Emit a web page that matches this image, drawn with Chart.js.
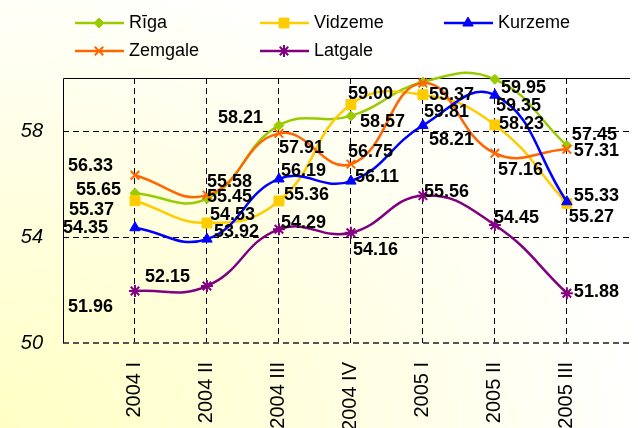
<!DOCTYPE html>
<html>
<head>
<meta charset="utf-8">
<script src="https://cdn.jsdelivr.net/npm/chart.js@4.4.1/dist/chart.umd.min.js"></script>
<style>
  html, body { margin: 0; padding: 0; }
  body {
    width: 638px; height: 428px; overflow: hidden;
    background: radial-gradient(ellipse 120% 130% at 0% 100%, #ffffc4 0%, #ffffe2 45%, #ffffff 85%);
  }
</style>
</head>
<body>
<canvas id="grafiks" width="638" height="428"></canvas>
<script>
// dati
const ceturksni = ["2004 I", "2004 II", "2004 III", "2004 IV", "2005 I", "2005 II", "2005 III"];
const riga    = [55.65, 55.45, 58.21, 58.57, 59.85, 59.95, 57.45];
const vidzeme = [55.37, 54.53, 55.36, 59.00, 59.37, 58.23, 55.27];
const kurzeme = [54.35, 53.92, 56.19, 56.11, 58.21, 59.35, 55.33];
const zemgale = [56.33, 55.58, 57.91, 56.75, 59.81, 57.16, 57.31];
const latgale = [51.96, 52.15, 54.29, 54.16, 55.56, 54.45, 51.88];
const yTicks = [50, 54, 58];

// etiķešu nobīdes (pikseļos no punkta), null = bez etiķetes
const nobides = {
  "Rīga":    [[-59, -3], [0, -2], [-61, -7], [9, 6], null, [6, 9], [5, -11]],
  "Vidzeme": [[-66, 9], [3, -8], [5, -6], [-3, -10], [6, 0], [4, -1], [2, 14]],
  "Kurzeme": [[-72, 0], [7, -7], [2, -8], [4, -4], [6, 15], [1, 11], [7, -6]],
  "Zemgale": [[-67, -9], [0, -13], [0, 15], [-3, -12], [1, 29], [3, 17], [7, 2]],
  "Latgale": [[-67, 16], [-62, -9], [2, -6], [2, 17], [1, -4], [-1, -7], [7, -1]]
};

const punkti = vals => vals.map((v, i) => ({ x: i + 1, y: v }));

function serija(nos, vals, krasa, stils, radius, bw, kartiba) {
  return {
    label: nos,
    data: punkti(vals),
    borderColor: krasa,
    backgroundColor: krasa,
    borderWidth: 2.5,
    pointStyle: stils,
    pointRadius: radius,
    pointHoverRadius: radius,
    pointBorderWidth: bw,
    pointBorderColor: krasa,
    pointBackgroundColor: krasa,
    tension: 0.45,
    clip: false,
    order: kartiba
  };
}

const datasets = [
  serija("Rīga", riga, "#99cc00", "rectRot", 5, 1, 5),
  serija("Vidzeme", vidzeme, "#ffcc00", "rect", 7, 1, 4),
  serija("Kurzeme", kurzeme, "#0000ff", "triangle", 6, 1, 2),
  serija("Zemgale", zemgale, "#ff6600", "crossRot", 6, 2, 3),
  serija("Latgale", latgale, "#800080", "star", 6, 2, 1)
];

// leģendas izvietojums
const legendaPoz = [
  { x: 75, y: 23 }, { x: 260, y: 23 }, { x: 444, y: 23 },
  { x: 75, y: 51 }, { x: 260, y: 51 }
];

const apmales = {
  id: "apmales",
  beforeDatasetsDraw(chart) {
    const { ctx, chartArea: a } = chart;
    ctx.save();
    ctx.strokeStyle = "#000";
    ctx.lineWidth = 1;
    ctx.beginPath();
    ctx.moveTo(a.left + 0.5, a.bottom);
    ctx.lineTo(a.left + 0.5, a.top + 0.5);
    ctx.lineTo(a.right, a.top + 0.5);
    ctx.stroke();
    ctx.restore();
  }
};

const etiketes = {
  id: "etiketes",
  afterDatasetsDraw(chart) {
    const ctx = chart.ctx;
    ctx.save();
    ctx.font = "bold 18px 'Liberation Sans', Arial, sans-serif";
    ctx.fillStyle = "#000";
    ctx.textAlign = "left";
    ctx.textBaseline = "middle";
    chart.data.datasets.forEach((ds, di) => {
      const meta = chart.getDatasetMeta(di);
      meta.data.forEach((el, i) => {
        const o = nobides[ds.label][i];
        if (!o) return;
        ctx.fillText(ds.data[i].y.toFixed(2), el.x + o[0], el.y + o[1]);
      });
    });
    ctx.restore();
  }
};

const legenda = {
  id: "legenda",
  afterDraw(chart) {
    const ctx = chart.ctx;
    ctx.save();
    chart.data.datasets.forEach((ds, i) => {
      const p = legendaPoz[i];
      ctx.strokeStyle = ds.borderColor;
      ctx.fillStyle = ds.borderColor;
      ctx.lineWidth = 2.5;
      ctx.beginPath();
      ctx.moveTo(p.x, p.y);
      ctx.lineTo(p.x + 49, p.y);
      ctx.stroke();
      ctx.lineWidth = ds.pointBorderWidth;
      Chart.helpers.drawPoint(ctx, {
        pointStyle: ds.pointStyle, radius: ds.pointRadius,
        borderWidth: ds.pointBorderWidth, rotation: 0
      }, p.x + 24, p.y);
      ctx.fillStyle = "#000";
      ctx.font = "18px 'Liberation Sans', Arial, sans-serif";
      ctx.textAlign = "left";
      ctx.textBaseline = "middle";
      ctx.fillText(ds.label, p.x + 54, p.y);
    });
    ctx.restore();
  }
};

new Chart(document.getElementById("grafiks"), {
  type: "line",
  data: { datasets: datasets },
  options: {
    responsive: false,
    animation: false,
    devicePixelRatio: 1,
    layout: { padding: { top: 78, left: 0, right: 0, bottom: 0 } },
    elements: { line: { capBezierPoints: false } },
    plugins: {
      legend: { display: false },
      tooltip: { enabled: false }
    },
    scales: {
      x: {
        type: "linear",
        min: 0,
        max: 7.877,
        afterBuildTicks: s => { s.ticks = ceturksni.map((_, i) => ({ value: i + 1 })); },
        afterFit: s => { s.height = 85; },
        grid: { color: "#000", lineWidth: 1, drawTicks: false },
        border: { display: false, dash: [6, 4] },
        ticks: {
          autoSkip: false,
          minRotation: 90,
          maxRotation: 90,
          padding: 19,
          color: "#000",
          font: { family: "'Liberation Sans', Arial, sans-serif", size: 20 },
          callback: v => ceturksni[v - 1] || ""
        }
      },
      y: {
        min: 50,
        max: 60,
        afterBuildTicks: s => { s.ticks = yTicks.map(v => ({ value: v })); },
        afterFit: s => { s.width = 63; },
        grid: {
          drawTicks: false,
          color: c => (c.tick && c.tick.value === 50 ? "#555" : "#000"),
          lineWidth: c => (c.tick && c.tick.value === 50 ? 2 : 1)
        },
        border: { display: false, dash: [6, 4] },
        ticks: {
          padding: 20,
          color: "#000",
          font: { family: "'Liberation Sans', Arial, sans-serif", size: 20, style: "italic" }
        }
      }
    }
  },
  plugins: [apmales, etiketes, legenda]
});
</script>
</body>
</html>
